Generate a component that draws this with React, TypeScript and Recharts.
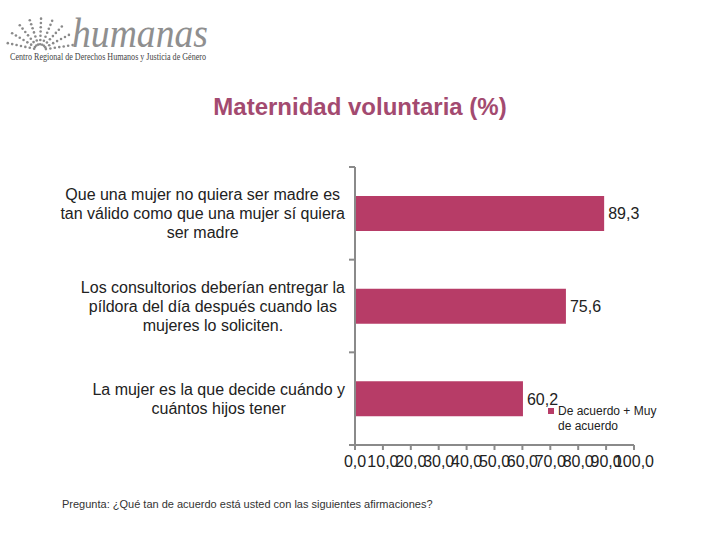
import React from 'react';
import { BarChart, Bar, XAxis, YAxis, LabelList } from 'recharts';

const categories = [
  ['Que una mujer no quiera ser madre es', 'tan válido como que una mujer sí quiera', 'ser madre'],
  ['Los consultorios deberían entregar la', 'píldora del día después cuando las', 'mujeres lo soliciten.'],
  ['La mujer es la que decide cuándo y', 'cuántos hijos tener'],
];
const values = [89.3, 75.6, 60.2];
const xTicks = [0, 10, 20, 30, 40, 50, 60, 70, 80, 90, 100];
const seriesName = ['De acuerdo + Muy', 'de acuerdo'];

const BAR_COLOR = '#b73c67';
const AXIS_COLOR = '#8a8a8a';
const FONT = 'Arial, "Liberation Sans", sans-serif';

const data = categories.map((lines, i) => ({ key: String(i), value: values[i] }));

const fmt = (v: number) => v.toFixed(1).replace('.', ',');

let ctx: CanvasRenderingContext2D | null = null;
const measure = (s: string, size: number) => {
  if (!ctx) ctx = document.createElement('canvas').getContext('2d');
  if (!ctx) return s.length * size * 0.5;
  ctx.font = `${size}px ${FONT}`;
  return ctx.measureText(s).width;
};

const TOP = 167;
const BOTTOM = 445;
const BAND = (BOTTOM - TOP) / categories.length;

const CategoryTick = (props: any) => {
  const { x, y, payload, index } = props;
  const lines = categories[Number(payload.value)];
  const size = 16;
  const lh = 19;
  const right = x - 2;
  const w = Math.max(...lines.map((l) => measure(l, size)));
  const cx = right - w / 2;
  const y0 = y - ((lines.length - 1) * lh) / 2;
  const ax = x + 8;
  return (
    <g>
      <line x1={ax - 6} x2={ax} y1={y - BAND / 2} y2={y - BAND / 2} stroke={AXIS_COLOR} strokeWidth={2} />
      {index === categories.length - 1 && (
        <line x1={ax - 6} x2={ax} y1={y + BAND / 2} y2={y + BAND / 2} stroke={AXIS_COLOR} strokeWidth={2} />
      )}
      <text textAnchor="middle" fill="#222" fontSize={size} fontFamily={FONT}>
        {lines.map((l, i) => (
          <tspan key={i} x={cx} y={y0 + i * lh} dy="0.35em">
            {l}
          </tspan>
        ))}
      </text>
    </g>
  );
};

const LegendBox = () => (
  <div
    style={{
      position: 'absolute',
      left: 548,
      top: 404,
      display: 'flex',
      fontFamily: FONT,
      fontSize: 12,
      color: '#222',
      lineHeight: '15px',
    }}
  >
    <span style={{ width: 6, height: 6, background: BAR_COLOR, marginTop: 4, marginRight: 4, flexShrink: 0 }} />
    <span>
      {seriesName[0]}
      <br />
      {seriesName[1]}
    </span>
  </div>
);

const Logo = () => {
  const dots: React.ReactElement[] = [];
  const cx = 40;
  const cy = 50;
  for (let a = 0; a < 9; a++) {
    const ang = Math.PI * (0.05 + a * 0.11);
    for (let r = 6; r < 34; r += 4.5) {
      dots.push(
        <circle key={`${a}-${r}`} cx={cx + Math.cos(ang) * r} cy={cy - Math.sin(ang) * r * 0.95} r={1.3} fill="#8a8a8a" />
      );
    }
  }
  return (
    <svg width={220} height={70} style={{ position: 'absolute', left: 0, top: 0 }}>
      {dots}
      <text
        x={72}
        y={47}
        fontFamily='"Liberation Serif", serif'
        fontStyle="italic"
        fontSize={42}
        fill="#8f8f8f"
        textLength={136}
        lengthAdjust="spacingAndGlyphs"
      >
        humanas
      </text>
      <text
        x={10}
        y={60}
        fontFamily='"Liberation Serif", serif'
        fontSize={9.5}
        fill="#444"
        textLength={196}
        lengthAdjust="spacingAndGlyphs"
      >
        Centro Regional de Derechos Humanos y Justicia de Género
      </text>
    </svg>
  );
};

export default function App() {
  return (
    <div style={{ position: 'absolute', left: 0, top: 0, width: 720, height: 540, background: '#fff' }}>
      <Logo />
      <div
        style={{
          position: 'absolute',
          top: 93,
          width: 720,
          textAlign: 'center',
          fontFamily: FONT,
          fontWeight: 'bold',
          fontSize: 24,
          color: '#a34a70',
        }}
      >
        Maternidad voluntaria (%)
      </div>
      <BarChart
        width={720}
        height={540}
        data={data}
        layout="vertical"
        margin={{ top: TOP, bottom: 0, left: 0, right: 86 }}
        style={{ position: 'absolute', left: 0, top: 0 }}
      >
        <XAxis
          type="number"
          domain={[0, 100]}
          ticks={xTicks}
          interval={0}
          tickFormatter={fmt}
          axisLine={{ stroke: AXIS_COLOR, strokeWidth: 2 }}
          tickLine={{ stroke: AXIS_COLOR, strokeWidth: 2 }}
          tickSize={5}
          tick={{ fill: '#222', fontSize: 16, fontFamily: FONT, dy: 4 }}
          height={540 - BOTTOM}
        />
        <YAxis
          type="category"
          dataKey="key"
          width={355}
          axisLine={{ stroke: AXIS_COLOR, strokeWidth: 2 }}
          tickLine={false}
          tick={<CategoryTick />}
        />
        <Bar dataKey="value" fill={BAR_COLOR} barSize={35} isAnimationActive={false}>
          <LabelList
            dataKey="value"
            position="right"
            formatter={(v: any) => fmt(Number(v))}
            fill="#222"
            fontSize={16}
            fontFamily={FONT}
            offset={4}
          />
        </Bar>
      </BarChart>
      <LegendBox />
      <div style={{ position: 'absolute', left: 62, top: 498, fontFamily: FONT, fontSize: 11, color: '#333' }}>
        Pregunta: ¿Qué tan de acuerdo está usted con las siguientes afirmaciones?
      </div>
    </div>
  );
}
